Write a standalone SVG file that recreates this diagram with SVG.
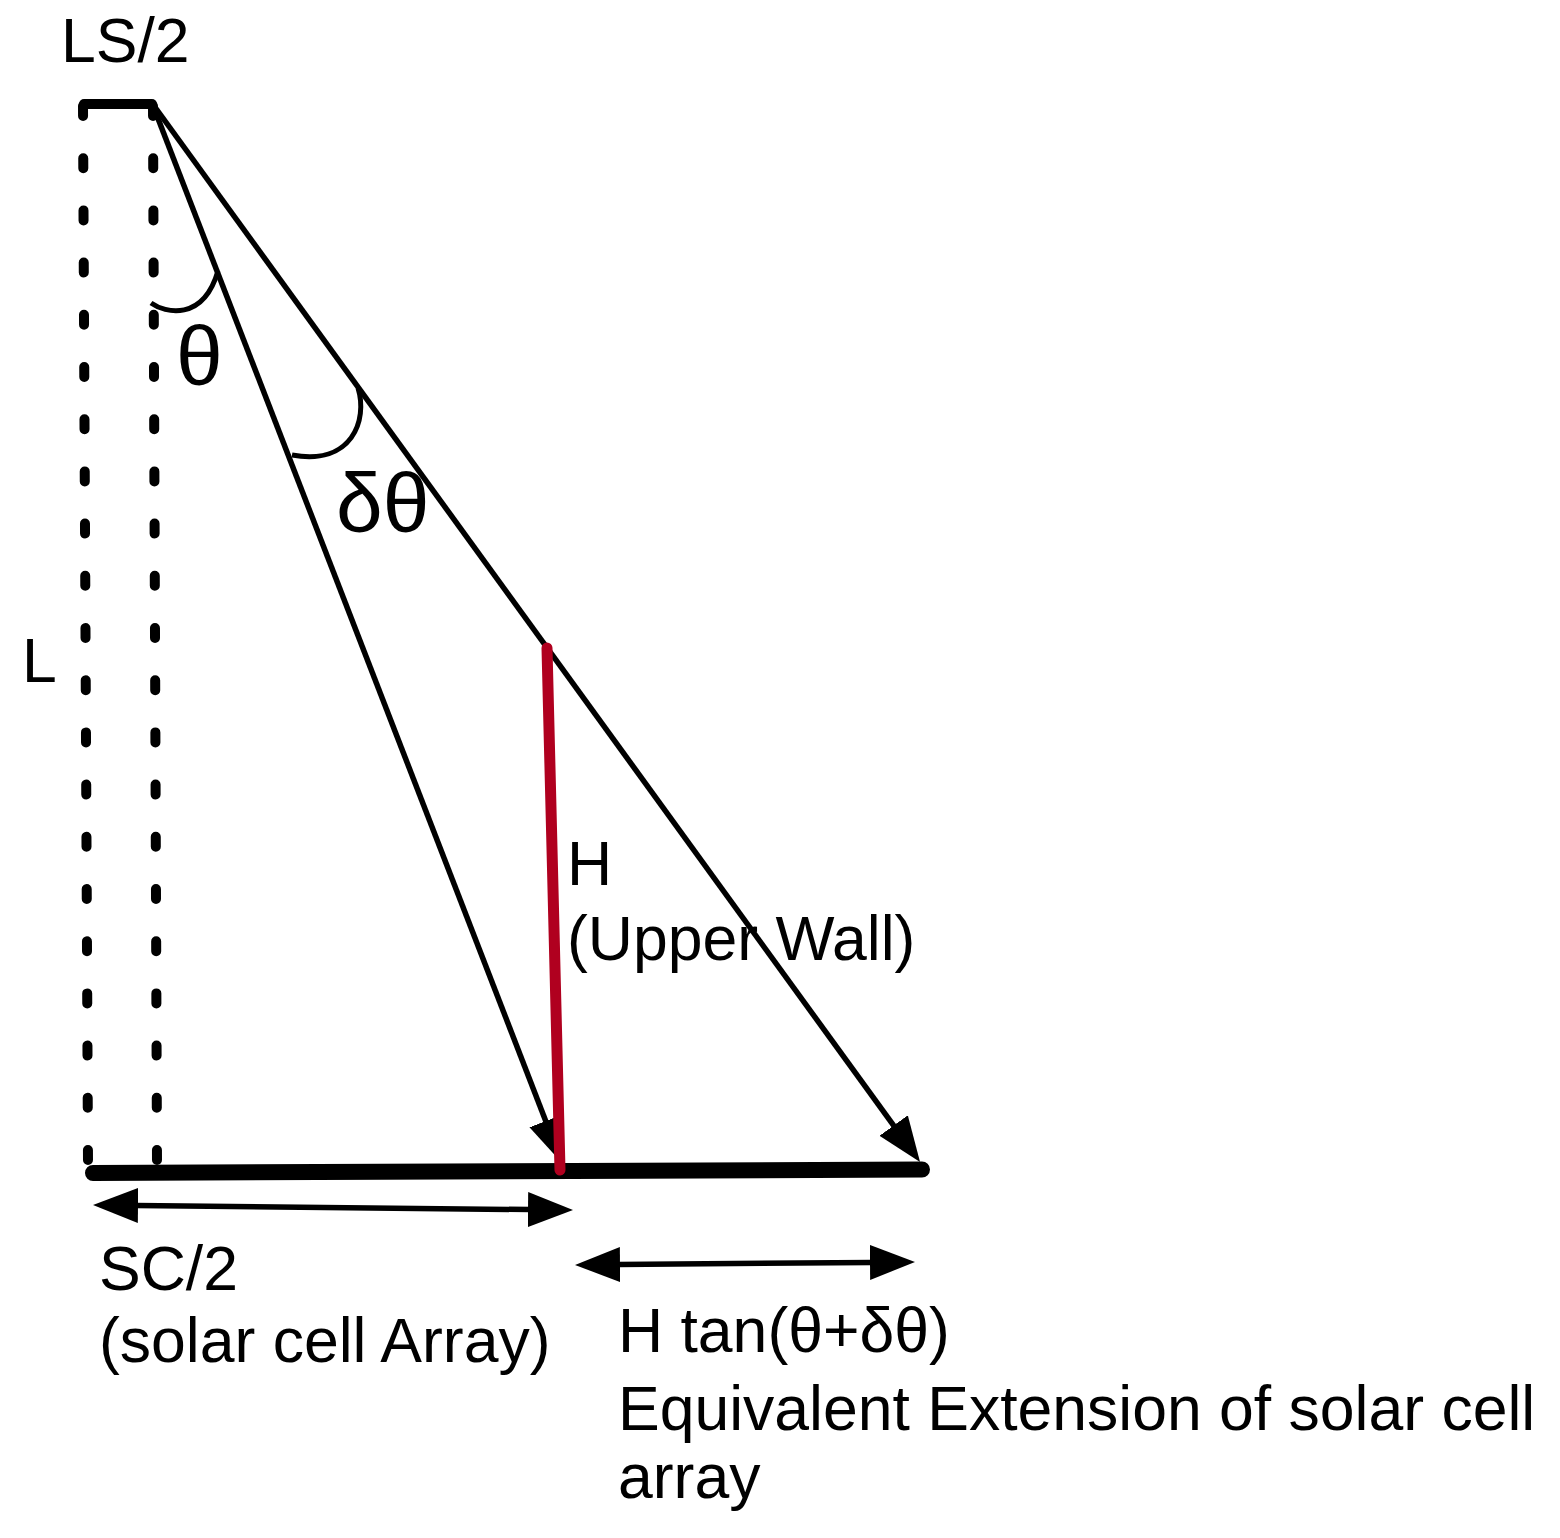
<svg xmlns="http://www.w3.org/2000/svg" width="1560" height="1538" viewBox="0 0 1560 1538">
<style>
  .t { font-family: "Liberation Sans", Arial, Helvetica, sans-serif; font-size: 62.5px; fill: #000; }
  .g { font-family: "Liberation Sans", Arial, Helvetica, sans-serif; font-size: 84px; fill: #000; }
  .ray { stroke: #000; stroke-width: 5.5; fill: none; }
  .dot { stroke: #000; stroke-width: 10; stroke-linecap: round; stroke-dasharray: 10 42.2; fill: none; }
  .arc { stroke: #000; stroke-width: 5; fill: none; }
</style>
<defs>
  <marker id="ah" markerUnits="userSpaceOnUse" markerWidth="46" markerHeight="36" refX="2" refY="17.5" orient="auto-start-reverse">
    <path d="M0,0 L45,17.5 L0,35 z" fill="#000"/>
  </marker>
</defs>
<rect width="1560" height="1538" fill="#fff"/>

<g id="dotted-lines">
  <line class="dot" x1="83" y1="106" x2="88" y2="1162"/>
  <line class="dot" x1="153" y1="106" x2="157" y2="1162"/>
</g>

<g id="top-bar">
  <line x1="84" y1="104" x2="152" y2="104" stroke="#000" stroke-width="10" stroke-linecap="round"/>
</g>

<g id="connectors">
  <line class="ray" x1="152" y1="103" x2="546.5" y2="1122.9" marker-end="url(#ah)"/>
  <line class="ray" x1="152" y1="103" x2="894.8" y2="1127.2" marker-end="url(#ah)"/>
  <line class="ray" x1="136" y1="1205.4" x2="530" y2="1209.6" marker-start="url(#ah)" marker-end="url(#ah)"/>
  <line class="ray" x1="618" y1="1264.6" x2="872" y2="1262.4" marker-start="url(#ah)" marker-end="url(#ah)"/>
</g>

<g id="base-line">
  <line x1="93" y1="1173" x2="922" y2="1169.5" stroke="#000" stroke-width="16" stroke-linecap="round"/>
</g>

<g id="upper-wall">
  <line x1="547" y1="648" x2="560" y2="1170" stroke="#B0001F" stroke-width="11" stroke-linecap="round"/>
</g>

<g id="angle-arcs">
  <path class="arc" d="M151,303 C165,313 203,322 218,271"/>
  <path class="arc" d="M358,388 C368,420 352,466 292,455"/>
</g>

<g id="labels">
  <text class="t" x="61" y="62">LS/2</text>
  <text class="t" x="22" y="682">L</text>
  <text class="g" x="176" y="385">θ</text>
  <text class="g" x="336" y="532">δθ</text>
  <text class="t" x="567" y="885">H</text>
  <text class="t" x="567" y="960">(Upper Wall)</text>
  <text class="t" x="99" y="1290">SC/2</text>
  <text class="t" x="99" y="1362">(solar cell Array)</text>
  <text class="t" x="618" y="1352">H tan(θ+δθ)</text>
  <text class="t" x="618" y="1430">Equivalent Extension of solar cell</text>
  <text class="t" x="618" y="1498">array</text>
</g>
</svg>
